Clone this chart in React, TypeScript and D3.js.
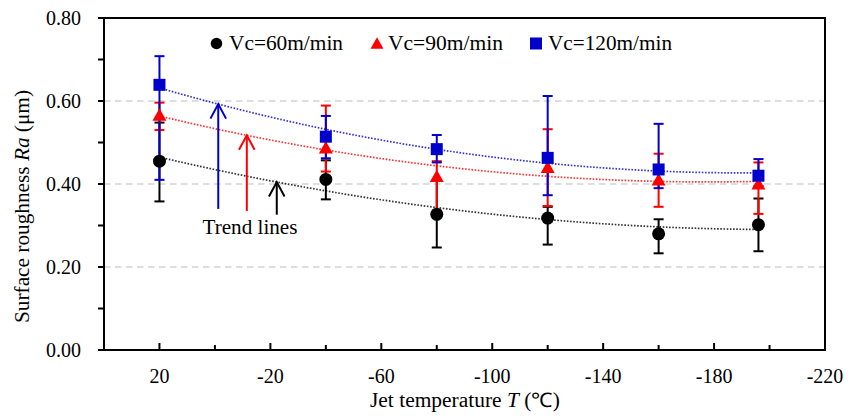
import React from "react";
import * as d3 from "d3";

// ---- data ----
const TEMPS = [20, -40, -80, -120, -160, -196];

const RA_60 = [0.455, 0.411, 0.327, 0.318, 0.28, 0.302];
const RA_60_LOW = [0.358, 0.363, 0.247, 0.254, 0.233, 0.238];
const RA_60_HIGH = [0.548, 0.457, 0.41, 0.345, 0.315, 0.365];

const RA_90 = [0.566, 0.487, 0.418, 0.44, 0.41, 0.4];
const RA_90_LOW = [0.53, 0.43, 0.336, 0.347, 0.345, 0.328];
const RA_90_HIGH = [0.596, 0.589, 0.455, 0.532, 0.473, 0.452];

const RA_120 = [0.639, 0.514, 0.484, 0.463, 0.435, 0.42];
const RA_120_LOW = [0.41, 0.462, 0.452, 0.373, 0.39, 0.395];
const RA_120_HIGH = [0.708, 0.564, 0.518, 0.612, 0.545, 0.46];

const SERIES_NAMES = ["Vc=60m/min", "Vc=90m/min", "Vc=120m/min"];
const SERIES_COLORS = ["#000000", "#ff0000", "#0000cc"];
const SERIES_SHAPES = ["circle", "triangle", "square"];

const X_MAJOR = [20, -20, -60, -100, -140, -180, -220];
const X_MINOR = [0, -40, -80, -120, -160, -200];
const Y_MAJOR = [0, 0.2, 0.4, 0.6, 0.8];
const Y_MINOR = [0.1, 0.3, 0.5, 0.7];
const Y_GRID = [0.2, 0.4, 0.6];

// trend-line annotation arrows: temperature of tip, Ra of tail (per series)
const ARROW_T = [-22.3, -11.5, -1.2];
const ARROW_TAIL = [0.326, 0.335, 0.34];

const W = 859;
const H = 419;
const M = { left: 104, right: 825, top: 18, bottom: 350 };
const FONT = '"Liberation Serif", "Times New Roman", Times, serif';
const TXT = { fontFamily: FONT };

// least-squares quadratic fit (like a spreadsheet polynomial trend line)
function quadFit(xs: number[], ys: number[]) {
  const mx = d3.mean(xs) as number;
  const u = xs.map((x) => x - mx);
  const S = (p: number) => d3.sum(u, (v) => Math.pow(v, p));
  const Sy = (p: number) => d3.sum(u, (v, i) => Math.pow(v, p) * ys[i]);
  const A = [
    [S(0), S(1), S(2)],
    [S(1), S(2), S(3)],
    [S(2), S(3), S(4)],
  ];
  const b = [Sy(0), Sy(1), Sy(2)];
  const det = (m: number[][]) =>
    m[0][0] * (m[1][1] * m[2][2] - m[1][2] * m[2][1]) -
    m[0][1] * (m[1][0] * m[2][2] - m[1][2] * m[2][0]) +
    m[0][2] * (m[1][0] * m[2][1] - m[1][1] * m[2][0]);
  const D = det(A);
  const coef = [0, 1, 2].map((k) => {
    const Mk = A.map((row, i) => row.map((v, j) => (j === k ? b[i] : v)));
    return det(Mk) / D;
  });
  return (x: number) => {
    const t = x - mx;
    return coef[0] + coef[1] * t + coef[2] * t * t;
  };
}

function Marker({ shape, x, y, color, size }: any) {
  if (shape === "circle") return <circle cx={x} cy={y} r={size / 2} fill={color} />;
  if (shape === "square")
    return <rect x={x - size / 2} y={y - size / 2} width={size} height={size} fill={color} />;
  const h = size * 0.95;
  return (
    <path
      d={`M${x},${y - h * 0.55} L${x + size / 2 + 0.5},${y + h * 0.45} L${x - size / 2 - 0.5},${y + h * 0.45} Z`}
      fill={color}
    />
  );
}

export default function App() {
  const x = d3.scaleLinear().domain([40, -220]).range([M.left, M.right]);
  const y = d3.scaleLinear().domain([0, 0.8]).range([M.bottom, M.top]);

  const series = [
    { mean: RA_60, low: RA_60_LOW, high: RA_60_HIGH },
    { mean: RA_90, low: RA_90_LOW, high: RA_90_HIGH },
    { mean: RA_120, low: RA_120_LOW, high: RA_120_HIGH },
  ].map((s, i) => ({
    ...s,
    name: SERIES_NAMES[i],
    color: SERIES_COLORS[i],
    shape: SERIES_SHAPES[i],
    fit: quadFit(TEMPS, s.mean),
  }));

  const tMin = d3.min(TEMPS) as number;
  const tMax = d3.max(TEMPS) as number;
  const samples = d3.range(0, 101).map((k) => tMax + ((tMin - tMax) * k) / 100);

  const fmt = d3.format(".2f");
  const legendX = [216.5, 377, 536];
  const legendTextX = [229, 388, 548];
  const legendW = [114, 115, 124];

  return (
    <svg
      width={W}
      height={H}
      style={{ position: "absolute", left: 0, top: 0, display: "block", background: "#fff", fontFamily: FONT }}
    >
      <rect x={0} y={0} width={W} height={H} fill="#fff" />

      {/* gridlines */}
      {Y_GRID.map((v) => (
        <line
          key={"g" + v}
          x1={M.left}
          x2={M.right}
          y1={y(v)}
          y2={y(v)}
          stroke="#d4d4d4"
          strokeWidth={1.6}
          strokeDasharray="6.5,4.5"
        />
      ))}

      {/* trend lines */}
      {series.map((s, i) => (
        <path
          key={"trend" + i}
          d={
            d3
              .line<number>()
              .x((t) => x(t))
              .y((t) => y(s.fit(t)))(samples) as string
          }
          fill="none"
          stroke={s.color}
          strokeWidth={1.7}
          strokeDasharray="1.6,1.6"
          opacity={0.8}
        />
      ))}

      {/* error bars */}
      {series.map((s, i) => (
        <g key={"err" + i} stroke={s.color} strokeWidth={2}>
          {TEMPS.map((t, j) => (
            <g key={j}>
              <line x1={x(t)} x2={x(t)} y1={y(s.low[j])} y2={y(s.high[j])} />
              <line x1={x(t) - 5} x2={x(t) + 5} y1={y(s.low[j])} y2={y(s.low[j])} />
              <line x1={x(t) - 5} x2={x(t) + 5} y1={y(s.high[j])} y2={y(s.high[j])} />
            </g>
          ))}
        </g>
      ))}

      {/* markers */}
      {series.map((s, i) => (
        <g key={"mk" + i}>
          {TEMPS.map((t, j) => (
            <Marker
              key={j}
              shape={s.shape}
              x={x(t)}
              y={y(s.mean[j])}
              color={s.color}
              size={s.shape === "circle" ? 13 : s.shape === "square" ? 12 : 13}
            />
          ))}
        </g>
      ))}

      {/* frame */}
      <rect
        x={M.left}
        y={M.top}
        width={M.right - M.left}
        height={M.bottom - M.top}
        fill="none"
        stroke="#000"
        strokeWidth={2}
      />

      {/* y ticks (outward) */}
      {[...Y_MAJOR, ...Y_MINOR].map((v) => (
        <line key={"yt" + v} x1={M.left - 6} x2={M.left} y1={y(v)} y2={y(v)} stroke="#000" strokeWidth={2} />
      ))}
      {Y_MAJOR.map((v) => (
        <text key={"yl" + v} x={81} y={y(v)} dy="0.35em" textAnchor="end" fontSize={20} fill="#000" style={TXT}>
          {fmt(v)}
        </text>
      ))}

      {/* x ticks (inward) */}
      {X_MAJOR.map((v) => (
        <line key={"xt" + v} x1={x(v)} x2={x(v)} y1={M.bottom} y2={M.bottom - 7} stroke="#000" strokeWidth={2} />
      ))}
      {X_MINOR.map((v) => (
        <line key={"xm" + v} x1={x(v)} x2={x(v)} y1={M.bottom} y2={M.bottom - 5} stroke="#000" strokeWidth={2} />
      ))}
      {X_MAJOR.map((v) => (
        <text key={"xl" + v} x={x(v)} y={382.5} textAnchor="middle" fontSize={20} fill="#000" style={TXT}>
          {String(v)}
        </text>
      ))}

      {/* axis titles */}
      <text
        x={465}
        y={407}
        textAnchor="middle"
        fontSize={20}
        fill="#000"
        style={TXT}
        textLength={190}
        lengthAdjust="spacingAndGlyphs"
      >
        Jet temperature <tspan fontStyle="italic">T</tspan> (℃)
      </text>
      <text
        transform={`translate(22,206.5) rotate(-90)`}
        textAnchor="middle"
        dy="0.35em"
        fontSize={20}
        fill="#000"
        style={TXT}
        textLength={233}
        lengthAdjust="spacingAndGlyphs"
      >
        Surface roughness <tspan fontStyle="italic">Ra</tspan> (μm)
      </text>

      {/* legend */}
      {series.map((s, i) => (
        <g key={"lg" + i}>
          <Marker shape={s.shape} x={legendX[i]} y={43.5} color={s.color} size={s.shape === "circle" ? 11.5 : 12} />
          <text
            x={legendTextX[i]}
            y={50}
            fontSize={20}
            fill="#000"
            style={TXT}
            textLength={legendW[i]}
            lengthAdjust="spacingAndGlyphs"
          >
            {s.name}
          </text>
        </g>
      ))}

      {/* trend-line annotation */}
      {series.map((s, i) => {
        const t = ARROW_T[i];
        const tipY = y(s.fit(t));
        const tx = x(t);
        return (
          <g key={"ar" + i} stroke={s.color} strokeWidth={2} fill="none">
            <line x1={tx} x2={tx} y1={y(ARROW_TAIL[i])} y2={tipY} />
            <path d={`M${tx - 7.8},${tipY + 14.5} L${tx},${tipY} L${tx + 7.8},${tipY + 14.5}`} />
          </g>
        );
      })}
      <text
        x={250}
        y={233.5}
        textAnchor="middle"
        fontSize={21}
        fill="#000"
        style={TXT}
        textLength={95}
        lengthAdjust="spacingAndGlyphs"
      >
        Trend lines
      </text>
    </svg>
  );
}
